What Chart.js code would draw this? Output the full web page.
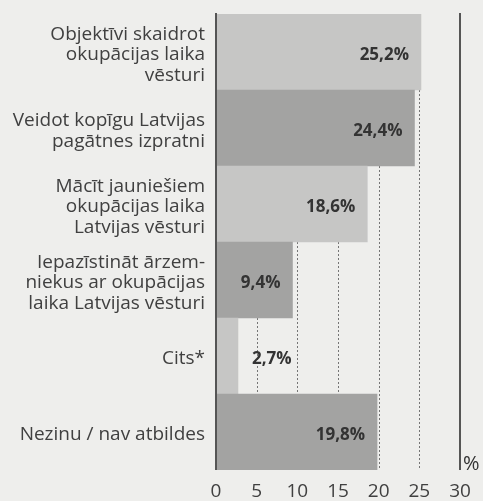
<!DOCTYPE html>
<html>
<head>
<meta charset="utf-8">
<script src="https://cdn.jsdelivr.net/npm/chart.js@4/dist/chart.umd.min.js"></script>
<style>
  html, body { margin: 0; padding: 0; background: #eeeeec; }
  #wrap { width: 483px; height: 501px; }
</style>
</head>
<body>
<div id="wrap"><canvas id="c" width="483" height="501"></canvas></div>
<script>
// Survey answers (multi-line category labels) and their shares in percent
const categories = [
  ["Objektīvi skaidrot", "okupācijas laika", "vēsturi"],
  ["Veidot kopīgu Latvijas", "pagātnes izpratni"],
  ["Mācīt jauniešiem", "okupācijas laika", "Latvijas vēsturi"],
  ["Iepazīstināt ārzem-", "niekus ar okupācijas", "laika Latvijas vēsturi"],
  ["Cits*"],
  ["Nezinu / nav atbildes"]
];
const shares = [25.2, 24.4, 18.6, 9.4, 2.7, 19.8];
const valueLabels = ["25,2%", "24,4%", "18,6%", "9,4%", "2,7%", "19,8%"];
const xTicks = [0, 5, 10, 15, 20, 25, 30];

const LIGHT = "#c6c6c5";
const DARK = "#a3a3a2";
const FONT = "'Open Sans', 'Noto Sans', sans-serif";

// Dotted guide lines behind the bars, solid frame lines in front
const guides = {
  id: "guides",
  beforeDatasetsDraw(chart) {
    const { ctx, chartArea: a, scales: { x } } = chart;
    ctx.save();
    ctx.strokeStyle = "#757575";
    ctx.lineWidth = 1;
    ctx.setLineDash([2, 2]);
    [5, 10, 15, 20, 25].forEach(v => {
      const px = Math.round(x.getPixelForValue(v)) + 0.5;
      ctx.beginPath();
      ctx.moveTo(px, a.top);
      ctx.lineTo(px, a.bottom);
      ctx.stroke();
    });
    ctx.restore();
  },
  afterDatasetsDraw(chart) {
    const { ctx, chartArea: a, scales: { x } } = chart;
    ctx.save();
    ctx.strokeStyle = "#555";
    ctx.lineWidth = 2;
    [0, 30].forEach(v => {
      const px = Math.round(x.getPixelForValue(v));
      ctx.beginPath();
      ctx.moveTo(px, a.top - 1);
      ctx.lineTo(px, a.bottom);
      ctx.stroke();
    });
    // unit mark next to the end of the value axis
    ctx.fillStyle = "#333";
    ctx.font = "20px " + FONT;
    ctx.textAlign = "left";
    ctx.textBaseline = "alphabetic";
    ctx.fillText("%", x.getPixelForValue(30) + 3, a.bottom);

    // value labels on the bars
    const meta = chart.getDatasetMeta(0);
    ctx.font = "bold 17px " + FONT;
    ctx.fillStyle = "#333";
    ctx.textBaseline = "middle";
    meta.data.forEach((bar, i) => {
      const w = bar.x - bar.base;
      if (w > 40) {
        ctx.textAlign = "right";
        ctx.fillText(valueLabels[i], bar.x - 12, bar.y + 3);
      } else {
        ctx.textAlign = "left";
        ctx.fillText(valueLabels[i], bar.x + 14, bar.y + 3);
      }
    });
    ctx.restore();
  }
};

new Chart(document.getElementById("c"), {
  type: "bar",
  data: {
    labels: categories,
    datasets: [{
      data: shares,
      backgroundColor: shares.map((_, i) => (i % 2 === 0 ? LIGHT : DARK)),
      borderWidth: 0,
      barPercentage: 1,
      categoryPercentage: 1
    }]
  },
  options: {
    indexAxis: "y",
    responsive: false,
    animation: false,
    layout: { padding: { top: 14, right: 23, left: 0, bottom: 0 } },
    plugins: { legend: { display: false }, tooltip: { enabled: false } },
    scales: {
      x: {
        min: 0,
        max: 30,
        afterBuildTicks(scale) { scale.ticks = xTicks.map(v => ({ value: v })); },
        afterFit(scale) {
          scale.height = 31;
          scale.paddingLeft = 0;
          scale.paddingRight = 0;
        },
        grid: { display: false, drawTicks: false },
        border: { display: false },
        ticks: {
          color: "#404040",
          font: { family: FONT, size: 19 },
          padding: 10,
          maxRotation: 0
        }
      },
      y: {
        afterFit(scale) {
          scale.width = 216;
          scale.paddingTop = 0;
          scale.paddingBottom = 0;
        },
        grid: { display: false, drawTicks: false },
        border: { display: false },
        ticks: {
          color: "#404040",
          font: { family: FONT, size: 19, lineHeight: 1.1 },
          padding: 11,
          labelOffset: 3
        }
      }
    }
  },
  plugins: [guides]
});
</script>
</body>
</html>
